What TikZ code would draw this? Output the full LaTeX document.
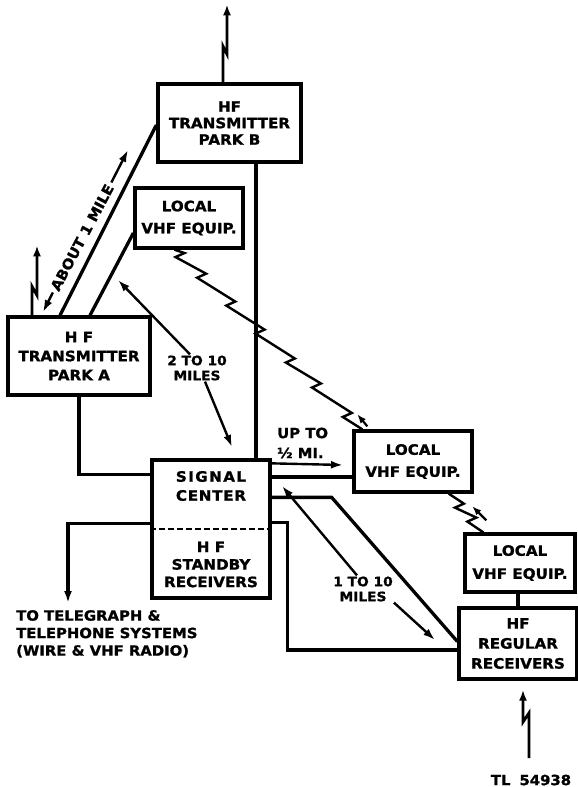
\documentclass[tikz,border=0pt]{standalone}
\usepackage{fontspec}
\newfontfamily\lettering[FakeStretch=1.06,FakeBold=1.2]{DejaVu Sans}
\usetikzlibrary{arrows.meta,calc}

\begin{document}
\begin{tikzpicture}[x=1pt,y=-1pt,
  equip/.style={draw, line width=3.3pt, inner sep=0pt, align=center,
    font=\lettering\bfseries\fontsize{14.3}{#1}\selectfont},
  equip/.default=18,
  caption/.style={inner sep=1pt, font=\lettering\bfseries\fontsize{14}{#1}\selectfont},
  caption/.default=16,
  wire/.style={line width=3.3pt},
  tipped/.style={-{Latex[length=12pt,width=8pt]}},
  dim/.style={line width=2.4pt, -{Latex[length=12pt,width=8pt]}},
  ant/.style={line width=2.8pt, line join=miter, -{Latex[length=11pt,width=8pt]}},
  radio/.style={line width=2.4pt, line join=miter},
  blip/.style={line width=2.2pt, -{Latex[length=9pt,width=7pt]}},
  divider/.style={line width=2.2pt, dash pattern=on 6pt off 3pt}]
\useasboundingbox (0,0) rectangle (578,787);

% equipment blocks
\node[equip=16.5, minimum width=143, minimum height=78] (parkB) at (229.5,123) {HF\\TRANSMITTER\\PARK B};
\node[equip=22, minimum width=108, minimum height=60] (vhf1) at (189,218) {LOCAL\\VHF EQUIP.};
\node[equip=19, minimum width=142, minimum height=78] (parkA) at (79,356) {H F\\TRANSMITTER\\PARK A};
\node[equip, minimum width=118, minimum height=138] (sc) at (211,529) {};
\node[equip=19, draw=none] (sig) at (211,486) {\addfontfeature{LetterSpace=10}SIGNAL\\\addfontfeature{LetterSpace=5}CENTER};
\node[equip=17.5, draw=none] (stby) at (211,564.5) {H F\\STANDBY\\RECEIVERS};
\draw[divider] (sc.west) -- (sc.east);
\node[equip=22, minimum width=118, minimum height=61] (vhf2) at (413,461.5) {LOCAL\\VHF EQUIP.};
\node[equip=23, minimum width=110, minimum height=58] (vhf3) at (520,563) {LOCAL\\VHF EQUIP.};
\node[equip=20, minimum width=118, minimum height=71] (hfr) at (518,643.5) {HF\\REGULAR\\RECEIVERS};

% antennas
\draw[ant] ([xshift=-6.5pt]parkB.north) -- ++(0,-36) -- ++(4,8) -- ++(0,-50);
\draw[ant] ([xshift=-47pt]parkA.north) -- ++(0,-29) -- ++(5,9) -- ++(0,-50);
\coordinate (rxant) at (529,758);
\draw[ant] (rxant) -- ++(0,-45) -- ++(-6,9) -- ([xshift=5pt,yshift=-9pt]hfr.south);

% wire lines between blocks
\coordinate (c5) at ([xshift=26.5pt]parkB.south);
\draw[wire] (c5) -- (c5 |- sc.north);
\draw[wire] ([yshift=-2pt]parkB.west) -- ([xshift=-19pt]parkA.north);
\draw[wire] ([yshift=-15pt]vhf1.west) -- ([xshift=11pt]parkA.north);
\draw[wire] (parkA.south) |- ([yshift=-16pt]sc.north west);
\coordinate (c1) at ([yshift=-15.5pt]vhf2.west);
\draw[wire] (c1) -- (c1 -| sc.east);
\coordinate (c2) at ([yshift=-39pt]sc.north east);
\draw[wire] (c2) -- ++(60,0) -- ([yshift=2pt]hfr.west);
\coordinate (c3) at ([yshift=-64pt]sc.north east);
\draw[wire] (c3) -- ++(16,0) |- ([yshift=-6.5pt]hfr.west);
\draw[wire] (hfr.north) -- (hfr.north |- vhf3.south);

% outgoing line to the telegraph and telephone systems
\coordinate (c4) at ([yshift=-65pt]sc.north west);
\coordinate (teltip) at (68,603);
\draw[wire, tipped] (c4) -| (teltip);
\node[caption=17.5, anchor=north west, align=left] (tele) at (15,609)
  {TO TELEGRAPH \&\\TELEPHONE SYSTEMS\\(WIRE \& VHF RADIO)};

% radio links between the local VHF sets
\coordinate (r1) at ([xshift=41pt]vhf1.south west);
\coordinate (r2) at ([xshift=10pt]vhf2.north west);
\draw[radio] (r1) \foreach \t in {0.03,0.145,0.30,0.456,0.617,0.756,0.92}
  { -- ($(r1)!\t!(r2)+(4.5,-2)$) -- ($(r1)!\t!(r2)+(-4.5,2)$) } -- (r2);
\draw[blip] ($(r2)+(5,-3)$) -- ($(r2)+(-5,-15)$);
\coordinate (r3) at ([xshift=-25pt]vhf2.south east);
\coordinate (r4) at ([xshift=20pt]vhf3.north west);
\draw[radio] (r3) \foreach \t in {0.31,0.67}
  { -- ($(r3)!\t!(r4)+(4.5,-2)$) -- ($(r3)!\t!(r4)+(-4.5,2)$) } -- (r4);
\draw[blip] ($(r4)+(3,-12)$) -- ($(r4)+(-11,-26)$);

% distance markings
\coordinate (m1) at (43,312);
\coordinate (m2) at (128,150);
\node[caption, rotate=62, inner sep=3pt] (mile) at ($(m1)!0.46!(m2)$) {ABOUT 1 MILE};
\draw[dim] (mile.west) -- (m1);
\draw[dim] (mile.east) -- (m2);

\node[inner sep=1pt, align=center, font=\lettering\bfseries\fontsize{13}{15}\selectfont] (d210) at (197,368) {2 TO 10\\MILES};
\coordinate (t1) at (118,280);
\coordinate (t2) at (232,447);
\draw[dim] ([xshift=-7pt]d210.north) -- (t1);
\draw[dim] ([xshift=8pt]d210.south) -- (t2);

\node[inner sep=1pt, align=center, font=\lettering\bfseries\fontsize{13}{15}\selectfont] (d110) at (363,589) {1 TO 10\\MILES};
\coordinate (t3) at (282,486);
\coordinate (t4) at (435,640);
\draw[dim] ([xshift=-6pt]d110.north) -- (t3);
\draw[dim] (d110.south east) -- (t4);

\node[caption=20, anchor=west, align=left] (half) at (276,443) {UP TO\\½ MI.};
\coordinate (htip) at (343,465);
\draw[dim] ([yshift=-5pt]sc.north east) -- (htip);

\node[caption] (tl) at (531,780) {TL\hspace{9pt}54938};
\end{tikzpicture}
\end{document}
